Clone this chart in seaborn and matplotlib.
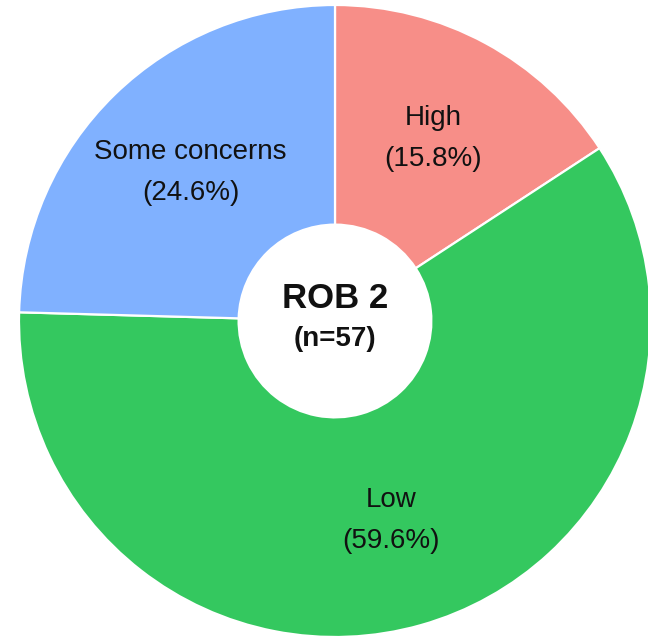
import numpy as np
import matplotlib
matplotlib.use("Agg")
import matplotlib.pyplot as plt
import seaborn as sns

# Risk-of-bias judgements (RoB 2), number of studies per category
categories = ["High", "Low", "Some concerns"]
counts = [9, 34, 14]
colors = ["#F78E88", "#34C85F", "#80B1FF"]
center_title = "ROB 2"
center_subtitle = "(n=57)"

sns.set_theme(style="white")
plt.rcParams["font.family"] = ["Liberation Sans", "DejaVu Sans"]

W, H = 648, 637
fig = plt.figure(figsize=(W / 100, H / 100), dpi=100)
fig.patch.set_facecolor("white")

# square axes holding a radius-1 donut centred at (335, 321) px, radius 316 px
cx, cy, R = 335, 321, 316
ax = fig.add_axes([(cx - R) / W, (H - cy - R) / H, 2 * R / W, 2 * R / H])

hole = 0.305
wedges, _ = ax.pie(
    counts,
    colors=colors,
    startangle=90,
    counterclock=False,
    radius=1.0,
    wedgeprops=dict(width=1 - hole, edgecolor="white", linewidth=1.6),
)
ax.set_xlim(-1, 1)
ax.set_ylim(-1, 1)
ax.set_aspect("equal")
ax.axis("off")

total = sum(counts)
label_r = 0.655
for w, name, c in zip(wedges, categories, counts):
    mid = np.deg2rad((w.theta1 + w.theta2) / 2)
    x, y = label_r * np.cos(mid), label_r * np.sin(mid)
    ax.text(x, y, f"{name}\n({100 * c / total:.1f}%)", ha="center", va="center",
            fontsize=20, color="#111111", linespacing=1.75)

ax.text(0, 0.07, center_title, ha="center", va="center", fontsize=25,
        fontweight="bold", color="#111111")
ax.text(0, -0.057, center_subtitle, ha="center", va="center", fontsize=20,
        fontweight="bold", color="#111111")

fig.savefig("out.png", dpi=100, facecolor="white")
